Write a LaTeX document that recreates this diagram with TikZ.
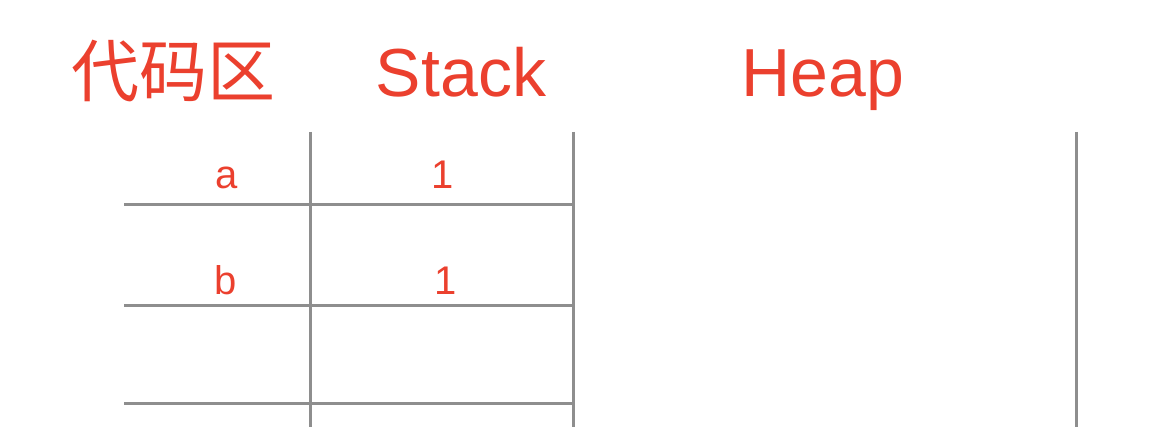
\documentclass[tikz,border=0pt]{standalone}
\usepackage{fontspec}
\setmainfont{Liberation Sans}
\newfontfamily\cjk{Noto Sans CJK SC}
\usepackage[svgnames, dvipsnames]{xcolor}
\usetikzlibrary{calc}
\definecolor{memred}{RGB}{235,64,46}
\definecolor{memgray}{RGB}{142,142,142}
\tikzset{>=latex,
  title/.style={text=memred, inner sep=0pt, anchor=base, font=\fontsize{68}{68}\selectfont},
  cell/.style={text=memred, inner sep=0pt, anchor=base, font=\fontsize{40}{40}\selectfont},
  rule/.style={draw=memgray, line width=3pt}}

\begin{document}
\begin{tikzpicture}[x=1pt, y=-1pt]
\useasboundingbox (0,0) rectangle (1168,427);
% headings
\node[title] (code) at (173,97) {\cjk 代码区};
\node[title] (stack) at (461,97) {Stack};
\node[title] (heap) at (823,97) {Heap};
% stack table
\foreach \xx in {310,573,1076}
  \draw[rule] (\xx,132) -- (\xx,427);
\foreach \yy in {205,306,404}
  \draw[rule] (124,\yy) -- (573,\yy);
\node[cell] (namea) at (227,189) {a};
\node[cell] (vala) at (443,189) {1};
\node[cell] (nameb) at (226,295) {b};
\node[cell] (valb) at (446,295) {1};
\end{tikzpicture}
\end{document}
